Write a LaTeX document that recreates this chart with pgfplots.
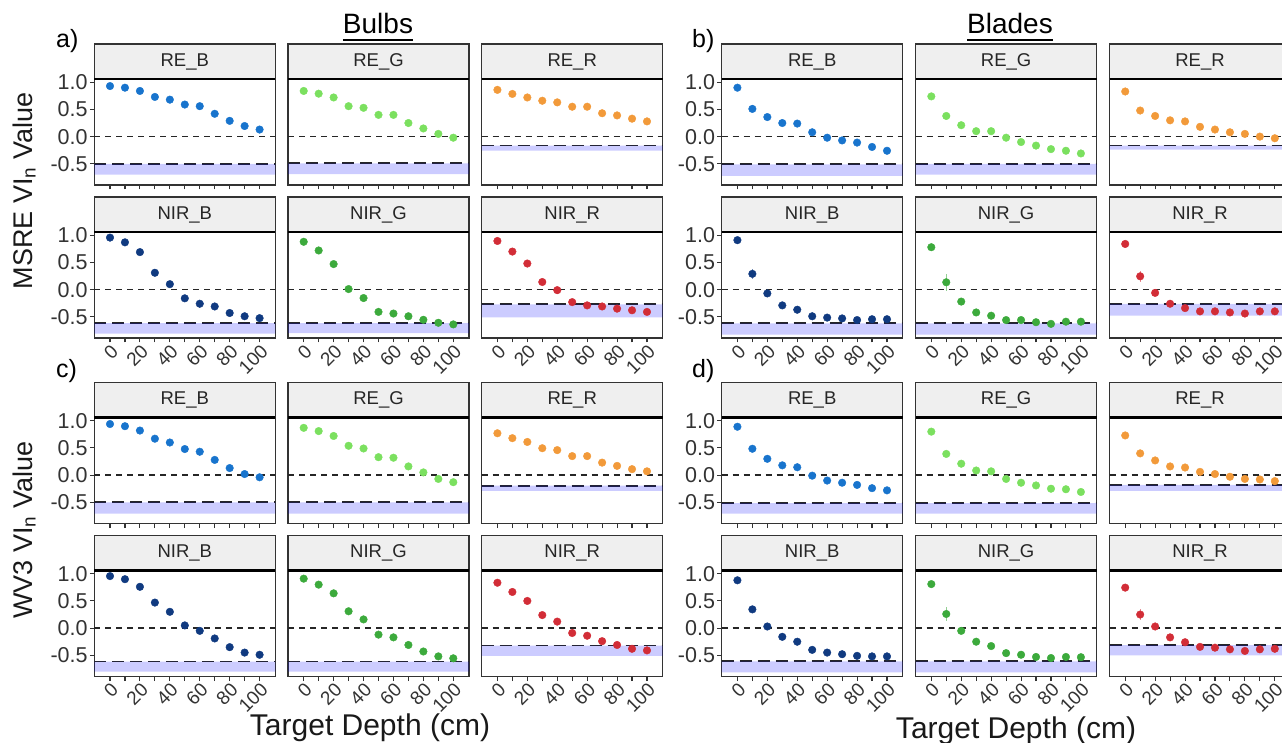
\documentclass[border=0pt]{standalone}
\usepackage{fontspec}
\setmainfont{Liberation Sans}
\usepackage{pgfplots}
\usepackage{pgfplotstable}
\pgfplotsset{compat=1.18}

\definecolor{cREB}{HTML}{1874CD}
\definecolor{cREG}{HTML}{7BE05F}
\definecolor{cRER}{HTML}{F29A3A}
\definecolor{cNIRB}{HTML}{103A80}
\definecolor{cNIRG}{HTML}{3CAA3C}
\definecolor{cNIRR}{HTML}{D22D37}
\definecolor{stripfill}{HTML}{EFEFEF}
\definecolor{frame}{HTML}{333333}
\definecolor{bandc}{HTML}{0000FF}

% a) MSRE, Bulbs
\pgfplotstableread{
depth REB REG RER NIRB NIRG NIRR eREB eREG eRER eNIRB eNIRG eNIRR
0 0.93 0.84 0.86 0.957 0.88 0.895 0.01 0.01 0.01 0.02 0.02 0.02
10 0.90 0.79 0.785 0.87 0.72 0.70 0.01 0.01 0.01 0.03 0.03 0.03
20 0.84 0.72 0.72 0.69 0.47 0.48 0.01 0.01 0.01 0.03 0.05 0.05
30 0.73 0.56 0.66 0.31 0.01 0.14 0.01 0.01 0.01 0.06 0.04 0.04
40 0.68 0.53 0.63 0.10 -0.155 -0.01 0.01 0.01 0.01 0.05 0.03 0.03
50 0.59 0.40 0.55 -0.16 -0.41 -0.23 0.01 0.01 0.01 0.03 0.03 0.03
60 0.56 0.40 0.55 -0.26 -0.44 -0.29 0.01 0.01 0.01 0.02 0.02 0.02
70 0.42 0.25 0.43 -0.31 -0.49 -0.31 0.01 0.01 0.01 0.02 0.02 0.02
80 0.29 0.15 0.39 -0.43 -0.555 -0.35 0.01 0.01 0.01 0.02 0.02 0.02
90 0.195 0.05 0.33 -0.49 -0.61 -0.38 0.01 0.01 0.01 0.02 0.02 0.02
100 0.13 -0.02 0.28 -0.525 -0.64 -0.41 0.01 0.01 0.01 0.02 0.02 0.02
}\tabA
% b) MSRE, Blades
\pgfplotstableread{
depth REB REG RER NIRB NIRG NIRR eREB eREG eRER eNIRB eNIRG eNIRR
0 0.90 0.74 0.83 0.91 0.78 0.84 0.01 0.01 0.01 0.02 0.02 0.02
10 0.51 0.38 0.48 0.29 0.135 0.245 0.01 0.01 0.01 0.09 0.16 0.10
20 0.36 0.21 0.38 -0.07 -0.22 -0.06 0.01 0.01 0.01 0.05 0.06 0.05
30 0.25 0.10 0.30 -0.29 -0.42 -0.26 0.01 0.01 0.01 0.03 0.03 0.03
40 0.24 0.10 0.28 -0.37 -0.48 -0.34 0.01 0.01 0.01 0.02 0.02 0.02
50 0.08 -0.02 0.18 -0.49 -0.56 -0.40 0.01 0.01 0.01 0.02 0.02 0.02
60 -0.02 -0.10 0.13 -0.515 -0.56 -0.40 0.01 0.01 0.01 0.02 0.02 0.02
70 -0.07 -0.165 0.08 -0.53 -0.60 -0.42 0.01 0.01 0.01 0.02 0.02 0.02
80 -0.11 -0.23 0.05 -0.56 -0.63 -0.44 0.01 0.01 0.01 0.02 0.02 0.02
90 -0.19 -0.26 0.00 -0.545 -0.59 -0.40 0.01 0.01 0.01 0.02 0.02 0.02
100 -0.26 -0.31 -0.03 -0.545 -0.59 -0.40 0.01 0.01 0.01 0.02 0.02 0.02
}\tabB
% c) WV3, Bulbs
\pgfplotstableread{
depth REB REG RER NIRB NIRG NIRR eREB eREG eRER eNIRB eNIRG eNIRR
0 0.94 0.87 0.77 0.957 0.91 0.835 0.01 0.01 0.01 0.02 0.02 0.02
10 0.90 0.81 0.68 0.90 0.80 0.665 0.01 0.01 0.01 0.02 0.02 0.03
20 0.82 0.72 0.61 0.76 0.64 0.50 0.01 0.01 0.01 0.03 0.03 0.03
30 0.67 0.54 0.495 0.47 0.31 0.24 0.01 0.01 0.01 0.03 0.03 0.03
40 0.60 0.49 0.46 0.30 0.16 0.12 0.01 0.01 0.01 0.03 0.04 0.03
50 0.48 0.33 0.35 0.05 -0.12 -0.09 0.01 0.01 0.01 0.05 0.03 0.03
60 0.43 0.32 0.35 -0.05 -0.17 -0.14 0.01 0.01 0.01 0.02 0.02 0.02
70 0.28 0.16 0.23 -0.19 -0.31 -0.24 0.01 0.01 0.01 0.02 0.02 0.02
80 0.13 0.05 0.17 -0.35 -0.43 -0.31 0.01 0.01 0.01 0.02 0.02 0.02
90 0.02 -0.07 0.11 -0.45 -0.52 -0.38 0.01 0.01 0.01 0.02 0.02 0.02
100 -0.04 -0.13 0.07 -0.49 -0.555 -0.41 0.01 0.01 0.01 0.02 0.02 0.02
}\tabC
% d) WV3, Blades
\pgfplotstableread{
depth REB REG RER NIRB NIRG NIRR eREB eREG eRER eNIRB eNIRG eNIRR
0 0.89 0.80 0.73 0.88 0.81 0.745 0.01 0.01 0.01 0.02 0.02 0.02
10 0.485 0.39 0.40 0.345 0.26 0.25 0.01 0.01 0.01 0.07 0.13 0.10
20 0.30 0.21 0.27 0.03 -0.05 0.03 0.01 0.01 0.01 0.03 0.05 0.04
30 0.18 0.085 0.16 -0.16 -0.25 -0.17 0.01 0.01 0.01 0.03 0.03 0.03
40 0.145 0.07 0.14 -0.25 -0.33 -0.26 0.01 0.01 0.01 0.02 0.02 0.02
50 -0.01 -0.07 0.06 -0.40 -0.46 -0.345 0.01 0.01 0.01 0.02 0.02 0.02
60 -0.10 -0.14 0.02 -0.45 -0.49 -0.36 0.01 0.01 0.01 0.02 0.02 0.02
70 -0.14 -0.19 -0.03 -0.48 -0.53 -0.39 0.01 0.01 0.01 0.02 0.02 0.02
80 -0.18 -0.25 -0.07 -0.51 -0.55 -0.42 0.01 0.01 0.01 0.02 0.02 0.02
90 -0.24 -0.26 -0.08 -0.52 -0.53 -0.39 0.01 0.01 0.01 0.02 0.02 0.02
100 -0.28 -0.31 -0.11 -0.52 -0.535 -0.38 0.01 0.01 0.01 0.02 0.02 0.02
}\tabD

\pgfplotsset{
  facet/.style={
    anchor=south west, scale only axis, width=181pt, height=106pt,
    xmin=-10.5, xmax=110.5, ymin=-0.89, ymax=1.06, clip=false,
    axis line style={draw=frame, line width=1.1pt},
    xtick={0,10,...,100}, ytick={-0.5,0,0.5,1},
    tick align=outside, major tick length=4.5pt,
    tick style={draw=frame, line width=1.1pt},
    tick pos=left,
    xticklabel=\empty, ymajorticks=false,
    xticklabel style={rotate=45, anchor=north east, font=\fontsize{19}{19}\selectfont, inner sep=0.5pt, text=black!80},
    yticklabel style={font=\fontsize{21.5}{21.5}\selectfont, inner sep=2pt, text=black!80},
  },
  xl/.style={xticklabels={0,,20,,40,,60,,80,,100}},
  yl/.style={ymajorticks=true, yticklabels={-0.5,0.0,0.5,1.0}},
  zeroline/.style={draw=black!85, line width=1.5pt, dash pattern=on 6pt off 5pt},
  thrline/.style={draw=black!85, line width=1.7pt, dash pattern=on 12pt off 6pt},
}

% #1 axis options, #2 table, #3 column, #4 colour, #5 strip label, #6 threshold, #7 band bottom
\newcommand{\facet}[7]{%
\begin{axis}[facet,#1]
\addplot[zeroline] coordinates {(-10.5,0) (110.5,0)};
\addplot[thrline] coordinates {(-10.5,#6) (110.5,#6)};
\addplot[color=#4, only marks, mark=*, mark size=3.8pt,
  mark options={fill=#4, draw=#4, line width=0.4pt},
  error bars/.cd, y dir=both, y explicit, error mark=none,
  error bar style={line width=1.2pt, #4!55}]
  table[x=depth, y=#3, y error=e#3] {#2};
\addplot[draw=none, fill=bandc, fill opacity=0.2]
  coordinates {(-10.5,#6) (110.5,#6) (110.5,#7) (-10.5,#7) (-10.5,#6)};
\draw[draw=frame, line width=1.1pt, fill=stripfill] (rel axis cs:0,1) rectangle ++(181pt,35pt);
\node[font=\fontsize{18.5}{18.5}\selectfont, text=black!85, yshift=17.5pt] at (rel axis cs:0.5,1) {#5};
\draw[black, line width=2.4pt] (rel axis cs:0,1) -- (rel axis cs:1,1);
\end{axis}}

\begin{document}
\begin{tikzpicture}
\useasboundingbox (0,0) rectangle (1282pt,742pt);
\clip (0,0) rectangle (1282pt,742pt);

% ---- a) MSRE Bulbs
\facet{at={(94.3pt,557pt)},yl}{\tabA}{REB}{cREB}{RE\_B}{-0.50}{-0.70}
\facet{at={(288pt,557pt)}}{\tabA}{REG}{cREG}{RE\_G}{-0.49}{-0.69}
\facet{at={(481.7pt,557pt)}}{\tabA}{RER}{cRER}{RE\_R}{-0.165}{-0.26}
\facet{at={(94.3pt,404pt)},yl,xl}{\tabA}{NIRB}{cNIRB}{NIR\_B}{-0.615}{-0.81}
\facet{at={(288pt,404pt)},xl}{\tabA}{NIRG}{cNIRG}{NIR\_G}{-0.615}{-0.80}
\facet{at={(481.7pt,404pt)},xl}{\tabA}{NIRR}{cNIRR}{NIR\_R}{-0.27}{-0.51}
% ---- b) MSRE Blades
\facet{at={(721.7pt,557pt)},yl}{\tabB}{REB}{cREB}{RE\_B}{-0.51}{-0.72}
\facet{at={(915.6pt,557pt)}}{\tabB}{REG}{cREG}{RE\_G}{-0.50}{-0.70}
\facet{at={(1109.5pt,557pt)}}{\tabB}{RER}{cRER}{RE\_R}{-0.165}{-0.24}
\facet{at={(721.7pt,404pt)},yl,xl}{\tabB}{NIRB}{cNIRB}{NIR\_B}{-0.62}{-0.83}
\facet{at={(915.6pt,404pt)},xl}{\tabB}{NIRG}{cNIRG}{NIR\_G}{-0.62}{-0.83}
\facet{at={(1109.5pt,404pt)},xl}{\tabB}{NIRR}{cNIRR}{NIR\_R}{-0.26}{-0.48}
% ---- c) WV3 Bulbs
\facet{at={(94.3pt,218.5pt)},yl}{\tabC}{REB}{cREB}{RE\_B}{-0.50}{-0.71}
\facet{at={(288pt,218.5pt)}}{\tabC}{REG}{cREG}{RE\_G}{-0.50}{-0.71}
\facet{at={(481.7pt,218.5pt)}}{\tabC}{RER}{cRER}{RE\_R}{-0.195}{-0.29}
\facet{at={(94.3pt,65.5pt)},yl,xl}{\tabC}{NIRB}{cNIRB}{NIR\_B}{-0.615}{-0.80}
\facet{at={(288pt,65.5pt)},xl}{\tabC}{NIRG}{cNIRG}{NIR\_G}{-0.615}{-0.80}
\facet{at={(481.7pt,65.5pt)},xl}{\tabC}{NIRR}{cNIRR}{NIR\_R}{-0.32}{-0.51}
% ---- d) WV3 Blades
\facet{at={(721.7pt,218.5pt)},yl}{\tabD}{REB}{cREB}{RE\_B}{-0.515}{-0.71}
\facet{at={(915.6pt,218.5pt)}}{\tabD}{REG}{cREG}{RE\_G}{-0.515}{-0.71}
\facet{at={(1109.5pt,218.5pt)}}{\tabD}{RER}{cRER}{RE\_R}{-0.18}{-0.29}
\facet{at={(721.7pt,65.5pt)},yl,xl}{\tabD}{NIRB}{cNIRB}{NIR\_B}{-0.61}{-0.815}
\facet{at={(915.6pt,65.5pt)},xl}{\tabD}{NIRG}{cNIRG}{NIR\_G}{-0.61}{-0.815}
\facet{at={(1109.5pt,65.5pt)},xl}{\tabD}{NIRR}{cNIRR}{NIR\_R}{-0.315}{-0.50}

% ---- titles and labels
\node[font=\fontsize{27}{27}\selectfont, rotate=90, anchor=base, text=black!90] at (32pt,551pt) {MSRE VI\textsubscript{n} Value};
\node[font=\fontsize{27}{27}\selectfont, rotate=90, anchor=base, text=black!90] at (32pt,212pt) {WV3 VI\textsubscript{n} Value};
\node[font=\fontsize{30}{30}\selectfont, anchor=base, text=black!90] at (370pt,7pt) {Target Depth (cm)};
\node[font=\fontsize{30}{30}\selectfont, anchor=base, text=black!90] at (1016pt,4pt) {Target Depth (cm)};

\node[font=\fontsize{28}{28}\selectfont, anchor=base, inner sep=0pt] (bulbs) at (378pt,708pt) {Bulbs};
\draw[line width=1.8pt] ([yshift=-6pt]bulbs.base west) -- ([yshift=-6pt]bulbs.base east);
\node[font=\fontsize{28}{28}\selectfont, anchor=base, inner sep=0pt] (blades) at (1010pt,708pt) {Blades};
\draw[line width=1.8pt] ([yshift=-6pt]blades.base west) -- ([yshift=-6pt]blades.base east);

\node[font=\fontsize{25}{25}\selectfont, anchor=base west, inner sep=0pt] at (56pt,694pt) {a)};
\node[font=\fontsize{25}{25}\selectfont, anchor=base west, inner sep=0pt] at (692pt,694pt) {b)};
\node[font=\fontsize{25}{25}\selectfont, anchor=base west, inner sep=0pt] at (56pt,364.5pt) {c)};
\node[font=\fontsize{25}{25}\selectfont, anchor=base west, inner sep=0pt] at (692pt,364.5pt) {d)};
\end{tikzpicture}
\end{document}
